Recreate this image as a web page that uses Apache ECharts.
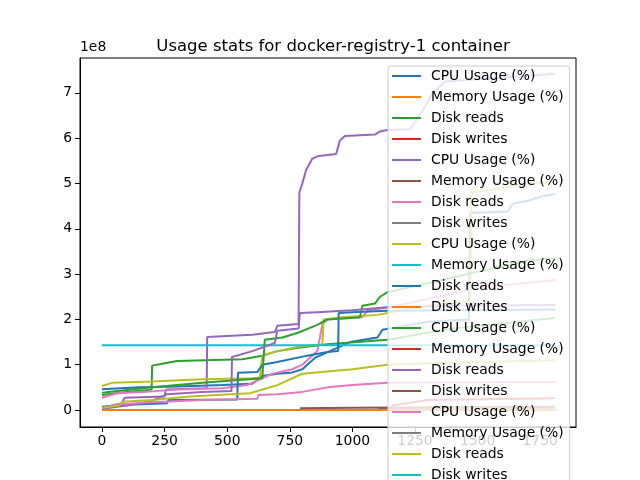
<!DOCTYPE html>
<html>
<head>
<meta charset="utf-8">
<script src="https://cdn.jsdelivr.net/npm/echarts@6/dist/echarts.min.js"></script>
<style>
  html, body { margin: 0; padding: 0; background: #fff; }
  #main { width: 640px; height: 480px; }
</style>
</head>
<body>
<div id="main"></div>
<script>
// ticks
var xTicks = [0, 250, 500, 750, 1000, 1250, 1500, 1750];
var yTicks = [0, 1, 2, 3, 4, 5, 6, 7]; // in units of 1e8

// legend labels, repeated for every container group
var metricNames = ['CPU Usage (%)', 'Memory Usage (%)', 'Disk reads', 'Disk writes'];

// series values [sample, value / 1e8]
var cpu1 = [[0,0.46],[150,0.5],[300,0.52],[480,0.55],[600,0.58],[640,0.75],[700,0.8],[760,0.83],[800,0.9],[850,1.15],[910,1.3],[990,1.5],[1100,1.6],[1120,1.77],[1200,1.85],[1300,1.95],[1465,2.0],[1470,4.35],[1620,4.38],[1640,4.55],[1700,4.62],[1760,4.72],[1810,4.77]];
var mem1 = [[0,0],[1810,0]];
var reads1 = [[0,0.33],[100,0.4],[198,0.45],[200,0.98],[240,1.02],[300,1.08],[560,1.12],[640,1.2],[700,1.3],[790,1.38],[900,1.45],[1140,1.55],[1400,1.8],[1810,2.03]];
var writes1 = [[0,0],[1150,0],[1160,0.1],[1300,0.22],[1810,0.26]];

var cpu2 = [[0,0.05],[80,0.15],[90,0.27],[250,0.3],[255,0.45],[418,0.48],[420,1.61],[600,1.66],[690,1.72],[700,1.86],[785,1.9],[788,4.8],[800,5.0],[815,5.3],[840,5.55],[860,5.6],[935,5.65],[950,5.95],[970,6.05],[1090,6.08],[1110,6.15],[1140,6.18],[1230,6.2],[1280,6.6],[1320,7.0],[1370,7.25],[1500,7.3],[1700,7.38],[1810,7.42]];
var mem2 = [[0,0],[1810,0]];
var reads2 = [[0,0.27],[60,0.37],[160,0.4],[300,0.45],[480,0.48],[580,0.55],[680,0.8],[760,0.9],[800,1.0],[860,1.3],[880,1.9],[900,2.0],[1040,2.05],[1060,2.2],[1150,2.27],[1300,2.45],[1500,2.7],[1810,2.87]];
var writes2 = [[0,0],[1100,0],[1110,0.03],[1810,0.05]];

var cpu3 = [[0,0.53],[40,0.6],[200,0.63],[400,0.68],[600,0.7],[630,0.72],[640,1.2],[700,1.3],[790,1.4],[880,1.45],[885,2.0],[960,2.05],[1100,2.1],[1300,2.3],[1470,2.4],[1475,4.8],[1600,4.9],[1680,5.0],[1810,5.03]];
var mem3 = [[0,1.43],[1810,1.43]];
var reads3 = [[0,0.07],[80,0.11],[260,0.15],[265,0.22],[540,0.23],[543,0.82],[620,0.84],[640,1.0],[700,1.06],[820,1.2],[900,1.28],[943,1.3],[945,2.14],[1000,2.16],[1140,2.19],[1810,2.22]];
var writes3 = [[0,0],[1810,0]];

var cpu4 = [[0,0.38],[200,0.5],[400,0.6],[640,0.7],[650,1.55],[720,1.6],[780,1.7],[860,1.88],[900,2.0],[1030,2.05],[1040,2.3],[1090,2.35],[1110,2.5],[1140,2.6],[1300,2.8],[1500,3.05],[1700,3.3],[1810,3.35]];
var mem4 = []; // not visible in the picture
var reads4 = [[0,0.03],[100,0.1],[200,0.2],[260,0.35],[400,0.4],[517,0.42],[519,1.17],[600,1.3],[690,1.48],[700,1.75],[785,1.8],[790,2.14],[860,2.16],[1000,2.2],[1140,2.27],[1400,2.3],[1810,2.32]];
var writes4 = [[790,0.04],[1000,0.05],[1400,0.06],[1810,0.07]];

var cpu5 = [[0,0.04],[60,0.12],[200,0.17],[400,0.22],[620,0.25],[625,0.33],[700,0.35],[800,0.4],[900,0.5],[1000,0.55],[1140,0.6],[1810,0.62]];
var mem5 = []; // not visible in the picture
var reads5 = [[0,0.05],[70,0.1],[80,0.18],[200,0.22],[350,0.3],[590,0.37],[700,0.55],[800,0.8],[900,0.85],[1000,0.9],[1140,1.0],[1400,1.05],[1810,1.1]];
var writes5 = []; // not visible in the picture

var allData = [cpu1, mem1, reads1, writes1, cpu2, mem2, reads2, writes2,
  cpu3, mem3, reads3, writes3, cpu4, mem4, reads4, writes4,
  cpu5, mem5, reads5, writes5];

var colors = ['#1f77b4', '#ff7f0e', '#2ca02c', '#d62728', '#9467bd',
  '#8c564b', '#e377c2', '#7f7f7f', '#bcbd22', '#17becf'];

var font = 'DejaVu Sans';

// names must be unique for the legend, so pad with zero width spaces
var seriesList = [];
var legendNames = [];
for (var i = 0; i < allData.length; i++) {
  var nm = metricNames[i % 4] + '\u200b'.repeat(i);
  legendNames.push(nm);
  seriesList.push({
    name: nm,
    type: 'line',
    symbol: 'none',
    data: allData[i],
    color: colors[i % 10],
    lineStyle: { width: 2 },
    animation: false
  });
}

var chart = echarts.init(document.getElementById('main'));
chart.setOption({
  backgroundColor: '#fff',
  animation: false,
  title: {
    text: 'Usage stats for docker-registry-1 container',
    left: 328,
    top: 33,
    textAlign: 'center',
    textStyle: { fontFamily: font, fontSize: 16.5, fontWeight: 'normal', color: '#000' }
  },
  graphic: [{
    type: 'text',
    left: 80,
    top: 40,
    style: { text: '1e8', font: '13.9px DejaVu Sans', fill: '#000' }
  }],
  grid: {
    left: 80, right: 64, top: 58, bottom: 53,
    show: true, borderColor: '#000', borderWidth: 1
  },
  legend: {
    data: legendNames,
    orient: 'vertical',
    left: 388,
    top: 66,
    height: 600,
    icon: 'rect',
    itemWidth: 29,
    itemHeight: 2,
    itemGap: 7,
    padding: [3, 6, 3, 4],
    backgroundColor: 'rgba(255,255,255,0.8)',
    borderColor: '#cccccc',
    borderWidth: 1,
    borderRadius: 3,
    formatter: function (n) { return n.replace(/\u200b/g, ''); },
    textStyle: { fontFamily: font, fontSize: 13.9, lineHeight: 14, color: '#000', padding: [0, 0, 0, 5] }
  },
  xAxis: {
    type: 'value',
    min: -88,
    max: 1893,
    splitLine: { show: false },
    axisLine: { onZero: false, lineStyle: { color: '#000', width: 1 } },
    axisTick: { show: true, length: 5, lineStyle: { color: '#000' }, customValues: xTicks },
    axisLabel: { color: '#000', fontFamily: font, fontSize: 13.9, margin: 7, customValues: xTicks,
      formatter: function (v) { return String(v); } }
  },
  yAxis: {
    type: 'value',
    min: -0.375,
    max: 7.77,
    splitLine: { show: false },
    axisLine: { show: true, onZero: false, lineStyle: { color: '#000', width: 1 } },
    axisTick: { show: true, length: 5, lineStyle: { color: '#000' }, customValues: yTicks },
    axisLabel: { color: '#000', fontFamily: font, fontSize: 13.9, margin: 8, customValues: yTicks,
      formatter: function (v) { return String(v); } }
  },
  series: seriesList
});
</script>
</body>
</html>
